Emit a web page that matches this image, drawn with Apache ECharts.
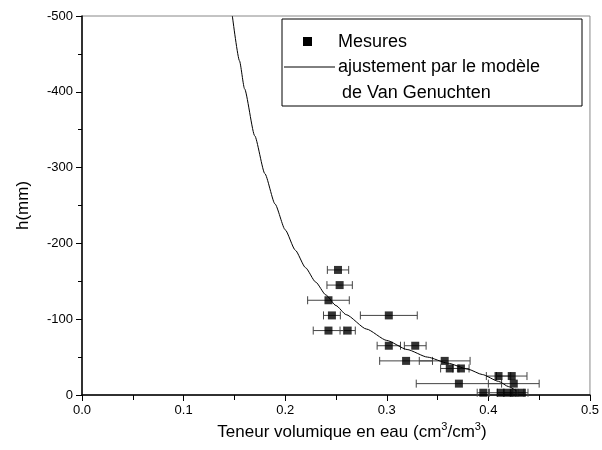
<!DOCTYPE html>
<html>
<head>
<meta charset="utf-8">
<script src="https://cdn.jsdelivr.net/npm/echarts@6/dist/echarts.min.js"></script>
<style>
  html, body { margin: 0; padding: 0; background: #fff; }
  #chart { width: 602px; height: 450px; }
</style>
</head>
<body>
<div id="chart"></div>
<script>
// measured points: water content, suction head, half-width of error bar
let theta = [0.252, 0.2536, 0.2426, 0.246, 0.302, 0.2426, 0.2615, 0.302, 0.328, 0.319, 0.357,
  0.362, 0.373, 0.371, 0.41, 0.423, 0.425, 0.395, 0.412, 0.419, 0.425, 0.433];
let head = [-165, -145, -125, -105, -105, -85, -85, -65, -65, -45, -45,
  -35, -35, -15, -25, -25, -15, -3, -3, -3, -3, -3];
let err = [0.0105, 0.0125, 0.0205, 0.0083, 0.028, 0.015, 0.0075, 0.0115, 0.0107, 0.026, 0.025,
  0.009, 0.008, 0.042, 0.012, 0.015, 0.025, 0.006, 0.012, 0.01, 0.01, 0.006];

// fitted Van Genuchten curve
let curveTheta = [0.148, 0.155, 0.16, 0.17, 0.18, 0.19, 0.20, 0.21, 0.22, 0.23, 0.24, 0.25,
  0.26, 0.28, 0.30, 0.32, 0.34, 0.36, 0.38, 0.394, 0.41, 0.42, 0.428];
let curveHead = [-500, -441, -404, -342, -292, -252, -218, -191, -168, -149, -132, -118,
  -106, -87, -72, -60, -50, -42, -34, -27, -18, -11, -5];

let font = 'Liberation Sans, Arial, sans-serif';

function pairs(a, b) {
  let out = [];
  for (let i = 0; i < a.length; i++) out.push([a[i], b[i]]);
  return out;
}

let errData = [];
for (let i = 0; i < theta.length; i++) {
  errData.push([theta[i] - err[i], theta[i] + err[i], head[i]]);
}

let chart = echarts.init(document.getElementById('chart'));
chart.setOption({
  animation: false,
  grid: {
    left: 82, right: 8, top: 16, bottom: 55,
    show: true, borderColor: '#888', borderWidth: 1
  },
  xAxis: {
    type: 'value',
    min: 0, max: 0.5, interval: 0.1,
    name: '{a|Teneur volumique en eau (cm}{s|3}{a|/cm}{s|3}{a|)}',
    nameLocation: 'middle', nameGap: 24,
    nameTextStyle: {
      padding: [0, 0, 0, 32],
      rich: {
        a: { fontFamily: font, fontSize: 17, color: '#000', lineHeight: 20 },
        s: { fontFamily: font, fontSize: 11, color: '#000', verticalAlign: 'top', lineHeight: 20, padding: [0, 0, 8, 0] }
      }
    },
    axisLine: { lineStyle: { color: '#000', width: 1.5 } },
    axisTick: { inside: false, length: 6, lineStyle: { color: '#000' } },
    minorTick: { show: true, splitNumber: 2, length: 5, lineStyle: { color: '#000' } },
    splitLine: { show: false },
    axisLabel: {
      fontFamily: font, fontSize: 13, color: '#000', margin: 9,
      formatter: function (v) { return v.toFixed(1); }
    }
  },
  yAxis: {
    type: 'value',
    min: -500, max: 0, interval: 100, inverse: true,
    name: 'h(mm)',
    nameLocation: 'middle', nameGap: 50,
    nameTextStyle: { fontFamily: font, fontSize: 17, color: '#000' },
    axisLine: { lineStyle: { color: '#000', width: 1.5 } },
    axisTick: { inside: false, length: 6, lineStyle: { color: '#000' } },
    minorTick: { show: true, splitNumber: 2, length: 4, lineStyle: { color: '#000' } },
    splitLine: { show: false },
    axisLabel: { fontFamily: font, fontSize: 13, color: '#000', margin: 9 }
  },
  series: [
    {
      name: 'errors',
      type: 'custom',
      data: errData,
      encode: { x: [0, 1], y: 2 },
      renderItem: function (params, api) {
        let a = api.coord([api.value(0), api.value(2)]);
        let b = api.coord([api.value(1), api.value(2)]);
        let s = { stroke: '#444', lineWidth: 1 };
        return {
          type: 'group',
          children: [
            { type: 'line', shape: { x1: a[0], y1: a[1], x2: b[0], y2: b[1] }, style: s },
            { type: 'line', shape: { x1: a[0], y1: a[1] - 4, x2: a[0], y2: a[1] + 4 }, style: s },
            { type: 'line', shape: { x1: b[0], y1: b[1] - 4, x2: b[0], y2: b[1] + 4 }, style: s }
          ]
        };
      },
      z: 2
    },
    {
      name: 'Mesures',
      type: 'scatter',
      symbol: 'rect',
      symbolSize: 8,
      itemStyle: { color: '#000' },
      data: pairs(theta, head),
      z: 3
    },
    {
      name: 'ajustement',
      type: 'line',
      smooth: 0.2,
      smoothMonotone: 'x',
      showSymbol: false,
      lineStyle: { color: '#000', width: 1 },
      data: pairs(curveTheta, curveHead),
      z: 4
    }
  ],
  graphic: [
    {
      type: 'rect', z: 10,
      shape: { x: 282, y: 19, width: 300, height: 87 },
      style: { fill: '#fff', stroke: '#000', lineWidth: 1 }
    },
    {
      type: 'rect', z: 11,
      shape: { x: 303, y: 37, width: 9, height: 9 },
      style: { fill: '#000' }
    },
    {
      type: 'line', z: 11,
      shape: { x1: 284, y1: 67, x2: 335, y2: 67 },
      style: { stroke: '#000', lineWidth: 1 }
    },
    {
      type: 'text', z: 11, x: 338, y: 42,
      style: { text: 'Mesures', font: '18px ' + font, fill: '#000', verticalAlign: 'middle' }
    },
    {
      type: 'text', z: 11, x: 338, y: 67,
      style: { text: 'ajustement par le modèle', font: '18px ' + font, fill: '#000', verticalAlign: 'middle' }
    },
    {
      type: 'text', z: 11, x: 342, y: 93,
      style: { text: 'de Van Genuchten', font: '18px ' + font, fill: '#000', verticalAlign: 'middle' }
    }
  ]
});
</script>
</body>
</html>
